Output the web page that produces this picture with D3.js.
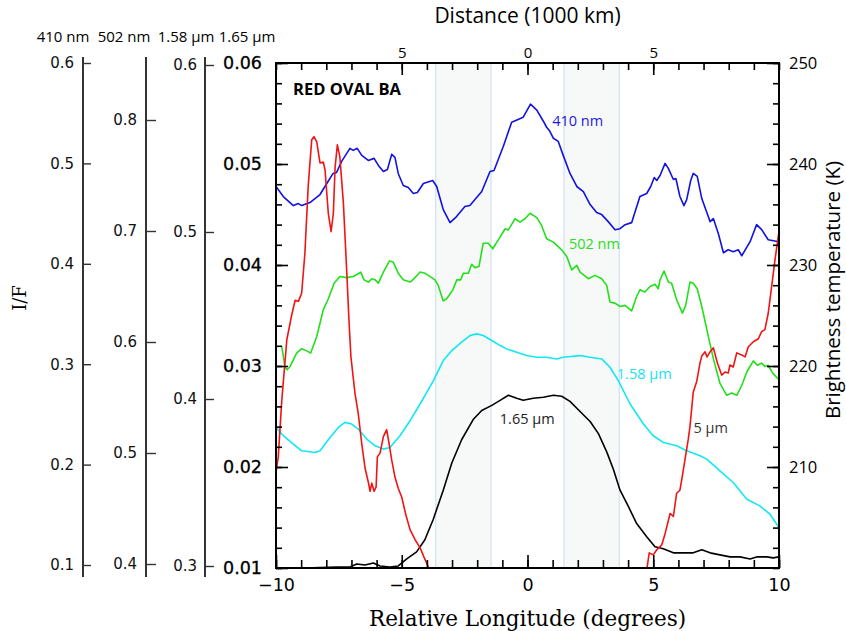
<!DOCTYPE html>
<html>
<head>
<meta charset="utf-8">
<script src="https://cdn.jsdelivr.net/npm/d3@7"></script>
<style>
body { margin: 0; background: #fff; }
svg { display: block; }
</style>
</head>
<body>
<svg></svg>
<script>
var width = 846,
    height = 631;

// tick labels and axis titles
var ticks165 = [0.01, 0.02, 0.03, 0.04, 0.05, 0.06];
var ticks410 = [0.1, 0.2, 0.3, 0.4, 0.5, 0.6];
var ticks502 = [0.4, 0.5, 0.6, 0.7, 0.8];
var ticks158 = [0.3, 0.4, 0.5, 0.6];
var ticksTemp = [210, 220, 230, 240, 250];
var ticksLon = [-10, -5, 0, 5, 10];
var ticksDist = [-5, 0, 5];
var stackTitles = ["410 nm", "502 nm", "1.58 \u03bcm", "1.65 \u03bcm"];

// shaded longitude bands
var bands = [[-3.65, -1.45], [1.45, 3.65]];

// [relative longitude, I/F] for 410 nm
var blue410 = [[-10,0.477],[-9.71,0.467],[-9.31,0.458],[-9.11,0.460],[-8.98,0.458],[-8.65,0.461],[-8.25,0.469],[-7.98,0.480],[-7.73,0.490],[-7.59,0.491],[-7.39,0.502],[-7.06,0.515],[-6.93,0.513],[-6.77,0.515],[-6.59,0.508],[-6.33,0.503],[-6.10,0.505],[-5.93,0.498],[-5.73,0.492],[-5.57,0.494],[-5.40,0.509],[-5.27,0.506],[-5.14,0.490],[-4.94,0.478],[-4.74,0.476],[-4.54,0.470],[-4.38,0.471],[-4.14,0.480],[-3.77,0.483],[-3.61,0.477],[-3.35,0.454],[-3.08,0.441],[-2.82,0.447],[-2.49,0.457],[-2.29,0.458],[-1.82,0.472],[-1.49,0.492],[-1.33,0.493],[-0.96,0.517],[-0.63,0.541],[-0.17,0.546],[0.12,0.559],[0.37,0.553],[0.63,0.542],[0.76,0.536],[0.89,0.532],[1.03,0.525],[1.22,0.522],[1.42,0.508],[1.69,0.490],[1.96,0.477],[2.22,0.472],[2.49,0.459],[2.75,0.451],[2.95,0.449],[3.21,0.442],[3.48,0.434],[3.68,0.435],[3.88,0.439],[4.14,0.441],[4.47,0.467],[4.74,0.470],[4.90,0.477],[5.04,0.486],[5.14,0.483],[5.27,0.488],[5.47,0.500],[5.60,0.495],[5.80,0.484],[5.90,0.485],[6.06,0.467],[6.22,0.458],[6.33,0.464],[6.49,0.483],[6.59,0.490],[6.75,0.487],[6.93,0.465],[7.13,0.451],[7.26,0.442],[7.39,0.445],[7.59,0.430],[7.79,0.411],[7.98,0.414],[8.18,0.412],[8.38,0.414],[8.52,0.408],[8.85,0.422],[9.11,0.439],[9.31,0.434],[9.57,0.424],[10,0.422]];

// 502 nm
var green502 = [[-9.77,0.596],[-9.64,0.577],[-9.56,0.575],[-9.44,0.578],[-9.18,0.590],[-8.98,0.594],[-8.78,0.592],[-8.62,0.590],[-8.38,0.605],[-8.12,0.629],[-7.92,0.639],[-7.69,0.653],[-7.46,0.659],[-7.19,0.658],[-6.93,0.659],[-6.77,0.661],[-6.63,0.663],[-6.50,0.656],[-6.33,0.654],[-6.19,0.657],[-6.06,0.656],[-5.93,0.653],[-5.73,0.663],[-5.49,0.673],[-5.34,0.672],[-5.14,0.662],[-4.94,0.656],[-4.67,0.654],[-4.51,0.657],[-4.27,0.663],[-4.08,0.662],[-3.68,0.656],[-3.55,0.651],[-3.35,0.637],[-3.21,0.639],[-2.97,0.647],[-2.81,0.656],[-2.66,0.656],[-2.55,0.662],[-2.35,0.662],[-2.22,0.670],[-2.09,0.667],[-1.93,0.668],[-1.76,0.689],[-1.56,0.689],[-1.38,0.684],[-1.22,0.690],[-1.16,0.692],[-0.89,0.702],[-0.76,0.701],[-0.50,0.711],[-0.30,0.708],[-0.10,0.711],[0.10,0.716],[0.37,0.712],[0.56,0.705],[0.76,0.693],[1.03,0.690],[1.36,0.683],[1.56,0.677],[1.76,0.665],[1.96,0.669],[2.09,0.663],[2.42,0.657],[2.68,0.660],[2.95,0.657],[3.15,0.651],[3.28,0.636],[3.48,0.635],[3.68,0.632],[3.88,0.633],[4.14,0.628],[4.34,0.641],[4.47,0.647],[4.67,0.645],[4.87,0.650],[5.07,0.652],[5.20,0.648],[5.27,0.656],[5.43,0.664],[5.60,0.654],[5.73,0.653],[5.93,0.638],[6.16,0.626],[6.29,0.633],[6.46,0.654],[6.59,0.653],[6.75,0.648],[6.93,0.632],[7.19,0.605],[7.39,0.585],[7.65,0.563],[7.92,0.552],[8.12,0.554],[8.32,0.552],[8.52,0.561],[8.72,0.573],[8.98,0.583],[9.14,0.579],[9.31,0.581],[9.44,0.578],[9.57,0.579],[9.75,0.572],[10,0.566]];

// 1.58 um
var cyan158 = [[-10,0.383],[-9.71,0.378],[-9.31,0.373],[-8.98,0.369],[-8.45,0.368],[-8.25,0.369],[-7.85,0.377],[-7.52,0.383],[-7.26,0.386],[-6.99,0.385],[-6.73,0.382],[-6.39,0.376],[-6.06,0.372],[-5.73,0.370],[-5.47,0.371],[-5.07,0.378],[-4.67,0.387],[-4.27,0.397],[-3.74,0.411],[-3.35,0.423],[-3.01,0.429],[-2.62,0.434],[-2.29,0.438],[-2.02,0.439],[-1.76,0.438],[-1.42,0.435],[-1.09,0.432],[-0.83,0.430],[-0.43,0.428],[-0.03,0.426],[0.37,0.425],[0.76,0.425],[1.16,0.424],[1.42,0.425],[2.09,0.426],[2.49,0.425],[2.95,0.424],[3.28,0.419],[3.61,0.411],[4.08,0.397],[4.61,0.385],[5.00,0.378],[5.40,0.374],[5.93,0.372],[6.33,0.369],[6.86,0.366],[7.13,0.364],[7.65,0.357],[8.18,0.350],[8.72,0.340],[9.24,0.336],[9.64,0.331],[10,0.323]];

// 1.65 um
var black165 = [[-10,0.0100],[-8.91,0.0100],[-7.59,0.0101],[-7.06,0.0101],[-6.79,0.0104],[-6.46,0.0103],[-6.13,0.0105],[-5.86,0.0102],[-5.47,0.0101],[-5.14,0.0102],[-4.80,0.0109],[-4.41,0.0116],[-4.08,0.0128],[-3.75,0.0148],[-3.35,0.0177],[-3.01,0.0204],[-2.62,0.0227],[-2.16,0.0247],[-1.82,0.0256],[-1.42,0.0261],[-1.09,0.0266],[-0.76,0.0271],[-0.43,0.0268],[-0.17,0.0266],[0.23,0.0268],[0.63,0.0269],[1.03,0.0271],[1.36,0.0270],[1.69,0.0265],[2.09,0.0255],[2.49,0.0245],[2.82,0.0233],[3.15,0.0215],[3.41,0.0198],[3.68,0.0177],[4.01,0.0161],[4.34,0.0144],[4.74,0.0131],[5.07,0.0121],[5.40,0.0119],[5.80,0.0115],[6.33,0.0115],[6.59,0.0115],[6.93,0.0118],[7.26,0.0115],[7.65,0.0113],[8.05,0.0111],[8.45,0.0111],[8.85,0.0109],[9.11,0.0111],[9.51,0.0111],[9.77,0.0110],[10,0.0111]];

// 5 um brightness temperature (K), null = gap
var red5um = [[-10,209.5],[-9.91,211.0],[-9.77,216.6],[-9.57,222.6],[-9.38,225.0],[-9.24,226.5],[-9.11,226.4],[-8.98,227.2],[-8.85,231.2],[-8.72,237.8],[-8.58,242.4],[-8.49,242.7],[-8.38,242.2],[-8.25,240.1],[-8.12,240.2],[-8.05,239.4],[-7.92,235.1],[-7.81,233.3],[-7.72,235.1],[-7.65,239.7],[-7.56,241.9],[-7.46,240.7],[-7.32,236.1],[-7.19,229.5],[-7.10,224.6],[-7.02,220.9],[-6.86,217.3],[-6.73,215.3],[-6.59,212.3],[-6.46,209.9],[-6.33,208.5],[-6.26,207.6],[-6.19,208.4],[-6.10,207.6],[-6.02,208.0],[-5.97,211.0],[-5.86,211.4],[-5.73,213.0],[-5.60,213.7],[-5.53,212.7],[-5.40,210.7],[-5.27,209.0],[-5.14,207.9],[-5.00,207.0],[-4.83,205.2],[-4.67,203.8],[-4.47,202.8],[-4.27,202.0],[-4.12,201.1],[-3.94,200.1],[-3.88,199.8],
  null,
  [4.74,199.8],[4.84,201.5],[5.00,201.3],[5.14,201.8],[5.34,202.3],[5.47,203.4],[5.67,205.4],[5.80,205.1],[5.93,207.4],[6.06,207.7],[6.13,208.7],[6.26,210.7],[6.39,212.7],[6.46,214.0],[6.59,217.4],[6.73,218.5],[6.86,220.3],[6.93,221.0],[7.06,221.4],[7.14,220.9],[7.26,221.4],[7.39,221.8],[7.55,220.3],[7.72,219.1],[7.85,219.4],[7.98,219.3],[8.05,220.1],[8.18,219.9],[8.32,221.3],[8.52,221.1],[8.65,220.9],[8.78,221.9],[8.98,222.4],[9.18,222.7],[9.31,223.4],[9.44,223.6],[9.57,225.2],[9.71,227.9],[9.84,230.5],[9.97,232.8],[10,233.3]];

var sansFont = "'Open Sans', 'Noto Sans', sans-serif";
var tickFont = "'DejaVu Sans', Verdana, sans-serif";
var serifFont = "'DejaVu Serif', serif";

var px0 = 276, px1 = 779, py0 = 63, py1 = 568;

var svg = d3.select("svg")
    .attr("width", width)
    .attr("height", height);

var x = d3.scaleLinear().domain([-10, 10]).range([px0, px1]);
var y165 = d3.scaleLinear().domain([0.01, 0.06]).range([py1, py0]);
var yTemp = d3.scaleLinear().domain([200, 250]).range([py1, py0]);
var y410 = d3.scaleLinear().domain([0.1, 0.6]).range([565, 63]);
var y502 = d3.scaleLinear().domain([0.4, 0.8]).range([564, 120]);
var y158 = d3.scaleLinear().domain([0.3, 0.6]).range([566, 65]);

svg.append("defs").append("clipPath")
    .attr("id", "frame")
    .append("rect")
    .attr("x", px0).attr("y", py0)
    .attr("width", px1 - px0).attr("height", py1 - py0);

// shaded bands
svg.append("g")
    .selectAll("rect")
    .data(bands)
    .enter()
    .append("rect")
    .attr("x", function (d) { return x(d[0]); })
    .attr("y", py0)
    .attr("width", function (d) { return x(d[1]) - x(d[0]); })
    .attr("height", py1 - py0)
    .attr("fill", "#f7f9f9")
    .attr("stroke", "#cfe1f1")
    .attr("stroke-width", 1.2);

function drawCurve(data, yScale, color) {
    var line = d3.line()
        .defined(function (d) { return d != null; })
        .x(function (d) { return x(d[0]); })
        .y(function (d) { return yScale(d[1]); });
    svg.append("path")
        .datum(data)
        .attr("clip-path", "url(#frame)")
        .attr("d", line)
        .attr("fill", "none")
        .attr("stroke", color)
        .attr("stroke-width", 1.6)
        .attr("stroke-linejoin", "round");
}

drawCurve(black165, y165, "#000");
drawCurve(cyan158, y158, "#10e8f4");
drawCurve(green502, y502, "#22e01a");
drawCurve(blue410, y410, "#1212e0");
drawCurve(red5um, yTemp, "#f01414");

// curve labels
var curveLabels = svg.append("g").attr("font-family", sansFont).attr("font-size", 14.5);
curveLabels.append("text").attr("x", x(0.98)).attr("y", y410(0.537)).attr("fill", "#1a1ae0").text("410 nm");
curveLabels.append("text").attr("x", x(1.65)).attr("y", y502(0.684)).attr("fill", "#28dc22").text("502 nm");
curveLabels.append("text").attr("x", x(3.55)).attr("y", y158(0.412)).attr("fill", "#14e4f2").text("1.58 \u03bcm");
curveLabels.append("text").attr("x", x(-1.1)).attr("y", y165(0.0243)).attr("fill", "#222").text("1.65 \u03bcm");
curveLabels.append("text").attr("x", x(6.6)).attr("y", yTemp(213.4)).attr("fill", "#333").text("5 \u03bcm");

svg.append("text")
    .attr("x", 293).attr("y", 95)
    .attr("font-family", sansFont).attr("font-weight", "bold").attr("font-size", 16.5)
    .text("RED OVAL BA");

// frame
svg.append("rect")
    .attr("x", px0).attr("y", py0)
    .attr("width", px1 - px0).attr("height", py1 - py0)
    .attr("fill", "none").attr("stroke", "#000").attr("stroke-width", 2);

function styleAxis(g, size, family) {
    g.select(".domain").remove();
    g.attr("font-size", size).attr("font-family", family);
    g.selectAll("line").attr("stroke", "#000").attr("stroke-width", 1.6);
    g.selectAll("text").attr("fill", "#000");
}

// left frame: 1.65 um I/F
var minor165 = d3.range(0, 26).map(function (i) { return 0.01 + i * 0.002; });
svg.append("g").attr("transform", "translate(" + px0 + ",0)")
    .call(d3.axisLeft(y165).tickValues(minor165).tickSizeInner(-6).tickSizeOuter(0).tickFormat(""))
    .call(styleAxis, 17, tickFont);
svg.append("g").attr("transform", "translate(" + px0 + ",0)")
    .call(d3.axisLeft(y165).tickValues(ticks165).tickSizeInner(-12).tickSizeOuter(0).tickPadding(14).tickFormat(d3.format(".2f")))
    .call(styleAxis, 17.5, tickFont)
    .selectAll(".tick text").attr("stroke", "#000").attr("stroke-width", 0.3);

// right frame: brightness temperature
var minorTemp = d3.range(200, 251, 2);
svg.append("g").attr("transform", "translate(" + px1 + ",0)")
    .call(d3.axisRight(yTemp).tickValues(minorTemp).tickSizeInner(-6).tickSizeOuter(0).tickFormat(""))
    .call(styleAxis, 16, sansFont);
svg.append("g").attr("transform", "translate(" + px1 + ",0)")
    .call(d3.axisRight(yTemp).tickValues(ticksTemp).tickSizeInner(-12).tickSizeOuter(0).tickPadding(10))
    .call(styleAxis, 16.5, sansFont);

// bottom frame: relative longitude
var minorLon = d3.range(-10, 11);
svg.append("g").attr("transform", "translate(0," + py1 + ")")
    .call(d3.axisBottom(x).tickValues(minorLon).tickSizeInner(-8).tickSizeOuter(0).tickFormat(""))
    .call(styleAxis, 17, tickFont);
svg.append("g").attr("transform", "translate(0," + py1 + ")")
    .call(d3.axisBottom(x).tickValues(ticksLon).tickSizeInner(-13).tickSizeOuter(0).tickPadding(11).tickFormat(d3.format("d")))
    .call(styleAxis, 17.5, tickFont);

// top frame: distance
svg.append("g").attr("transform", "translate(0," + py0 + ")")
    .call(d3.axisTop(x).tickValues(minorLon).tickSizeInner(-7).tickSizeOuter(0).tickFormat(""))
    .call(styleAxis, 15, sansFont);
svg.append("g").attr("transform", "translate(0," + py0 + ")")
    .call(d3.axisTop(x).tickValues(ticksDist).tickSizeInner(-12).tickSizeOuter(0).tickPadding(5)
        .tickFormat(function (d) { return Math.abs(d); }))
    .call(styleAxis, 15, sansFont);

// stacked I/F axes on the left
function stackAxis(scale, ticks, xPos, tickLen, pad) {
    var g = svg.append("g").attr("transform", "translate(" + xPos + ",0)");
    g.append("line")
        .attr("x1", 0).attr("x2", 0).attr("y1", 57).attr("y2", 577)
        .attr("stroke", "#333").attr("stroke-width", 1.4);
    g.call(d3.axisLeft(scale).tickValues(ticks).tickSizeInner(-tickLen).tickSizeOuter(0).tickPadding(pad).tickFormat(d3.format(".1f")))
        .call(styleAxis, 15, tickFont);
    g.selectAll(".tick line").attr("stroke", "#333").attr("stroke-width", 1.4);
    g.selectAll(".tick text").attr("fill", "#111");
}
stackAxis(y410, ticks410, 83, 8, 9);
stackAxis(y502, ticks502, 146, 10, 9);
stackAxis(y158, ticks158, 205, 9, 8);

svg.append("g")
    .attr("font-family", sansFont).attr("font-size", 15).attr("text-anchor", "middle")
    .selectAll("text")
    .data(stackTitles)
    .enter()
    .append("text")
    .attr("x", function (d, i) { return [63, 124, 186, 247][i]; })
    .attr("y", 42)
    .text(function (d) { return d; });

// axis titles
svg.append("text")
    .attr("x", (px0 + px1) / 2).attr("y", 23)
    .attr("text-anchor", "middle")
    .attr("font-family", sansFont).attr("font-size", 21)
    .text("Distance (1000 km)");

svg.append("text")
    .attr("x", (px0 + px1) / 2).attr("y", 626)
    .attr("text-anchor", "middle")
    .attr("font-family", serifFont).attr("font-size", 21.5)
    .text("Relative Longitude (degrees)");

svg.append("text")
    .attr("transform", "translate(26,298) rotate(-90)")
    .attr("text-anchor", "middle")
    .attr("font-family", serifFont).attr("font-size", 18)
    .text("I/F");

svg.append("text")
    .attr("transform", "translate(840,290) rotate(-90)")
    .attr("text-anchor", "middle")
    .attr("font-family", sansFont).attr("font-size", 20.5)
    .text("Brightness temperature (K)");
</script>
</body>
</html>
